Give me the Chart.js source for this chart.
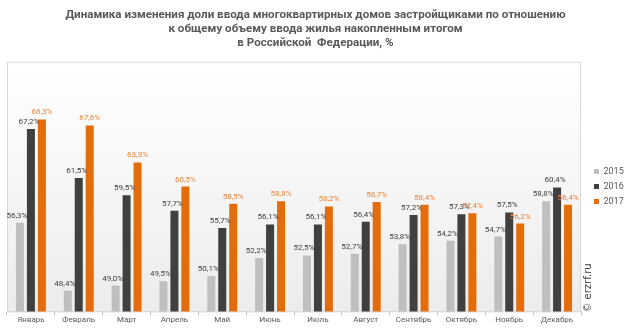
<!DOCTYPE html>
<html>
<head>
<meta charset="utf-8">
<script src="https://cdn.jsdelivr.net/npm/chart.js@4"></script>
<style>
  html, body { margin: 0; padding: 0; background: #fff; }
  #wrap { width: 624px; height: 333px; }
</style>
</head>
<body>
<div id="wrap"><canvas id="myChart"></canvas></div>
<script>
// Данные графика
const months = ['Январь', 'Февраль', 'Март', 'Апрель', 'Май', 'Июнь', 'Июль', 'Август', 'Сентябрь', 'Октябрь', 'Ноябрь', 'Декабрь'];
const years = ['2015', '2016', '2017'];
const values2015 = [56.3, 48.4, 49.0, 49.5, 50.1, 52.2, 52.5, 52.7, 53.8, 54.2, 54.7, 58.8];
const values2016 = [67.2, 61.5, 59.5, 57.7, 55.7, 56.1, 56.1, 56.4, 57.2, 57.3, 57.5, 60.4];
const values2017 = [68.3, 67.6, 63.3, 60.5, 58.5, 58.8, 58.2, 58.7, 58.4, 57.4, 56.2, 58.4];
const titleLines = [
    'Динамика изменения доли ввода многоквартирных домов застройщиками по отношению',
    'к общему объему ввода жилья накопленным итогом',
    'в Российской  Федерации, %'
];

const barColors = ['#bfbfbf', '#404040', '#e46c0a'];
const labelColors = ['#404040', '#404040', '#e8843a'];
const labelShift = [-3, -2, 0];

// фон и рамка области графика
const plotFrame = {
    id: 'plotFrame',
    beforeDatasetsDraw(chart) {
        const { ctx, chartArea: a } = chart;
        const g = ctx.createLinearGradient(0, a.top, 0, a.bottom);
        g.addColorStop(0, '#ffffff');
        g.addColorStop(1, '#ececec');
        ctx.save();
        ctx.fillStyle = g;
        ctx.fillRect(a.left, a.top, a.right - a.left, a.bottom - a.top);
        ctx.strokeStyle = '#d9d9d9';
        ctx.lineWidth = 1;
        ctx.strokeRect(a.left + 0.5, a.top + 0.5, a.right - a.left - 1, a.bottom - a.top);
        ctx.restore();
    }
};

// подписи значений над столбцами
const valueLabels = {
    id: 'valueLabels',
    afterDatasetsDraw(chart) {
        const ctx = chart.ctx;
        ctx.save();
        ctx.font = '8px Roboto';
        ctx.textAlign = 'center';
        ctx.textBaseline = 'bottom';
        chart.data.datasets.forEach((ds, i) => {
            chart.getDatasetMeta(i).data.forEach((bar, j) => {
                ctx.fillStyle = labelColors[i];
                const txt = ds.data[j].toFixed(1).replace('.', ',') + '%';
                ctx.fillText(txt, bar.x + labelShift[i], bar.y - 3);
            });
        });
        ctx.restore();
    }
};

// водяной знак
const watermark = {
    id: 'watermark',
    afterDraw(chart) {
        const ctx = chart.ctx;
        ctx.save();
        ctx.translate(588, 288);
        ctx.rotate(-Math.PI / 2);
        ctx.font = '10px "DejaVu Sans"';
        ctx.fillStyle = '#404040';
        ctx.textAlign = 'center';
        ctx.textBaseline = 'middle';
        ctx.fillText('© erzrf.ru', 0, 0);
        ctx.restore();
    }
};

const data = {
    labels: months,
    datasets: [values2015, values2016, values2017].map((vals, i) => ({
        label: years[i],
        data: vals,
        backgroundColor: barColors[i],
        borderWidth: 0,
        categoryPercentage: 0.6875,
        barPercentage: 0.73
    }))
};

const config = {
    type: 'bar',
    data: data,
    options: {
        responsive: true,
        maintainAspectRatio: false,
        animation: false,
        layout: {
            padding: { left: 7, right: 0, top: 0, bottom: 8 }
        },
        plugins: {
            title: {
                display: true,
                text: titleLines,
                color: '#595959',
                font: { family: 'Roboto', size: 11.6, weight: 'bold', lineHeight: 1.2 },
                padding: { top: 8, bottom: 12 }
            },
            legend: {
                position: 'right',
                align: 'center',
                fullSize: false,
                maxWidth: 36,
                labels: {
                    boxWidth: 5,
                    boxHeight: 5,
                    padding: 6,
                    color: '#595959',
                    font: { family: 'Roboto', size: 9 }
                }
            },
            tooltip: { enabled: false }
        },
        scales: {
            x: {
                grid: {
                    display: true,
                    drawOnChartArea: false,
                    offset: true,
                    tickLength: 4,
                    color: '#bfbfbf'
                },
                border: { color: '#cfcfcf' },
                ticks: {
                    color: '#595959',
                    padding: 0,
                    font: { family: 'Roboto', size: 8 }
                }
            },
            y: {
                position: 'right',
                min: 46,
                max: 75,
                grid: { display: false },
                border: { display: false },
                ticks: { display: false },
                afterFit(scale) { scale.width = 7; }
            }
        }
    },
    plugins: [plotFrame, valueLabels, watermark]
};

const ctx = document.getElementById('myChart').getContext('2d');
new Chart(ctx, config);
</script>
</body>
</html>
